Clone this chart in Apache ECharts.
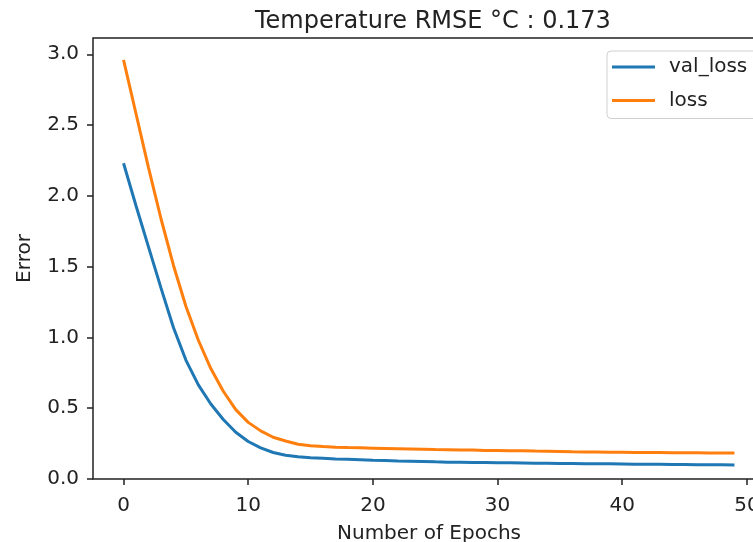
<!DOCTYPE html>
<html>
<head>
<meta charset="utf-8">
<script src="https://cdn.jsdelivr.net/npm/echarts@6/dist/echarts.min.js"></script>
<style>
html,body{margin:0;padding:0;background:#fff;}
#chart{width:753px;height:542px;}
</style>
</head>
<body>
<div id="chart"></div>
<script>
// Data
const epochs = Array.from({length: 50}, (_, i) => i);
const valLoss = [2.23, 1.93, 1.64, 1.35, 1.07, 0.84, 0.665, 0.53, 0.42, 0.33,
  0.265, 0.22, 0.187, 0.168, 0.157, 0.150, 0.146, 0.142, 0.139, 0.136,
  0.133, 0.131, 0.128, 0.126, 0.124, 0.121, 0.119, 0.118, 0.117, 0.116,
  0.115, 0.114, 0.113, 0.112, 0.111, 0.110, 0.109, 0.108, 0.108, 0.107,
  0.106, 0.105, 0.105, 0.104, 0.103, 0.102, 0.101, 0.100, 0.100, 0.099];
const loss = [2.96, 2.58, 2.20, 1.84, 1.51, 1.22, 0.98, 0.78, 0.62, 0.49,
  0.40, 0.34, 0.295, 0.268, 0.246, 0.235, 0.229, 0.225, 0.222, 0.220,
  0.218, 0.216, 0.214, 0.212, 0.210, 0.208, 0.207, 0.205, 0.204, 0.202,
  0.201, 0.200, 0.199, 0.197, 0.196, 0.194, 0.192, 0.191, 0.190, 0.189,
  0.189, 0.188, 0.187, 0.187, 0.186, 0.185, 0.185, 0.184, 0.184, 0.183];
const xTicks = [0, 10, 20, 30, 40, 50];
const yTicks = [0, 0.5, 1.0, 1.5, 2.0, 2.5, 3.0];
const seriesNames = ['val_loss', 'loss'];
const titleText = 'Temperature RMSE °C : 0.173';

const FONT = 'DejaVu Sans';
const TXT = '#222';
const chart = echarts.init(document.getElementById('chart'), null, {renderer: 'canvas'});
chart.setOption({
  animation: false,
  backgroundColor: '#fff',
  textStyle: {fontFamily: FONT},
  title: {
    text: titleText,
    left: 250,
    top: 5,
    textStyle: {fontFamily: FONT, fontSize: 24, fontWeight: 'normal', color: TXT}
  },
  legend: {
    data: seriesNames,
    orient: 'vertical',
    left: 607,
    top: 51,
    padding: [6, 10, 8, 5],
    itemWidth: 43,
    itemHeight: 3,
    itemGap: 13.5,
    icon: 'rect',
    borderColor: '#d0d0d0',
    borderWidth: 1,
    borderRadius: 4,
    backgroundColor: 'rgba(255,255,255,0.8)',
    textStyle: {fontFamily: FONT, fontSize: 20, color: TXT, padding: [0, 0, 0, 9]}
  },
  grid: {
    left: 93, top: 38, right: -12, bottom: 63,
    show: true, borderColor: '#222', borderWidth: 1.5,
    containLabel: false,
    outerBoundsMode: 'none'
  },
  xAxis: {
    type: 'value',
    min: -2.45, max: 51.45,
    name: 'Number of Epochs',
    nameLocation: 'middle',
    nameGap: 45,
    nameTextStyle: {fontFamily: FONT, fontSize: 20, color: TXT},
    splitLine: {show: false},
    axisLine: {show: false, onZero: false},
    axisTick: {show: true, length: 6, lineStyle: {color: '#222', width: 1.5}, customValues: xTicks},
    axisLabel: {fontFamily: FONT, fontSize: 20, color: TXT, margin: 17, customValues: xTicks,
      formatter: v => String(v)}
  },
  yAxis: {
    type: 'value',
    min: 0, max: 3.115,
    name: 'Error',
    nameLocation: 'middle',
    nameGap: 58,
    nameTextStyle: {fontFamily: FONT, fontSize: 20, color: TXT},
    splitLine: {show: false},
    axisLine: {show: false, onZero: false},
    axisTick: {show: true, length: 6, lineStyle: {color: '#222', width: 1.5}, customValues: yTicks},
    axisLabel: {fontFamily: FONT, fontSize: 20, color: TXT, margin: 14, customValues: yTicks,
      formatter: v => v.toFixed(1)}
  },
  series: [
    {
      name: seriesNames[0], type: 'line', showSymbol: false, smooth: false,
      data: epochs.map((e, i) => [e, valLoss[i]]),
      lineStyle: {color: '#1f77b4', width: 3}, itemStyle: {color: '#1f77b4'}
    },
    {
      name: seriesNames[1], type: 'line', showSymbol: false, smooth: false,
      data: epochs.map((e, i) => [e, loss[i]]),
      lineStyle: {color: '#ff7f0e', width: 3}, itemStyle: {color: '#ff7f0e'}
    }
  ]
});
</script>
</body>
</html>
